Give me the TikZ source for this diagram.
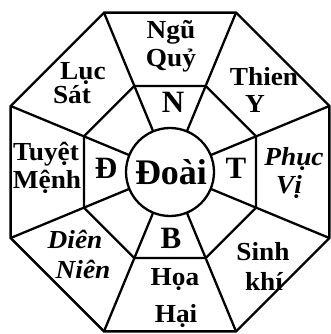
\documentclass[tikz,border=0pt]{standalone}
\usepackage{fontspec}
\setmainfont{Liberation Serif}
\newfontfamily\regfont[FakeStretch=1.05]{Liberation Serif}
\usetikzlibrary{calc}
\tikzset{
  edge/.style={line width=2.3pt, line join=miter},
  reg/.style={anchor=base, inner sep=0pt, font=\regfont\bfseries\fontsize{26}{26}\selectfont},
  regi/.style={anchor=base, inner sep=0pt, font=\regfont\bfseries\itshape\fontsize{26}{26}\selectfont},
  dirl/.style={anchor=base, inner sep=0pt, font=\bfseries\fontsize{31}{31}\selectfont},
  ctr/.style={anchor=base, inner sep=0pt, font=\bfseries\fontsize{36}{36}\selectfont},
}
\begin{document}
\begin{tikzpicture}[x=1pt,y=-1pt]
\useasboundingbox (0,0) rectangle (331,334);
\coordinate (C) at (170,172);
\foreach \k in {0,...,7} {
  \pgfmathsetmacro\a{22.5+45*\k}
  \coordinate (o\k) at ($(C)+(\a:172.5)$);
  \coordinate (i\k) at ($(C)+(\a:93.1)$);
  \coordinate (c\k) at ($(C)+(\a:44)$);
}
\node[draw, circle, line width=2.3pt, minimum size=88pt, inner sep=0pt] (doai) at (C) {};
\draw[edge] (o0) -- (o1) -- (o2) -- (o3) -- (o4) -- (o5) -- (o6) -- (o7) -- cycle;
\draw[edge] (i0) -- (i1) -- (i2) -- (i3) -- (i4) -- (i5) -- (i6) -- (i7) -- cycle;
\foreach \k in {0,...,7} {
  \draw[edge] (c\k) -- (o\k);
}
% labels
\node[reg] (ngu) at (171,39) {Ngũ};
\node[reg] (quy) at (171,67) {Quỷ};
\node[dirl] (n) at (173,113) {N};
\node[reg] (luc) at (83,80) {Lục};
\node[reg] (sat) at (72,103) {Sát};
\node[reg] (thien) at (264,86) {Thien};
\node[reg] (y) at (255,113) {Y};
\node[reg] (tuyet) at (46,160) {Tuyệt};
\node[reg] (menh) at (47,188) {Mệnh};
\node[dirl] (d) at (106,178) {Đ};
\node[ctr] (doaitxt) at (171,184) {Đoài};
\node[dirl] (t) at (236,178) {T};
\node[regi] (phuc) at (294,165) {Phục};
\node[regi] (vi) at (289,193) {Vị};
\node[dirl] (b) at (171,248) {B};
\node[regi] (dien) at (75,248) {Diên};
\node[regi] (nien) at (83,278) {Niên};
\node[reg] (sinh) at (263,260) {Sinh};
\node[reg] (khi) at (264,290) {khí};
\node[reg] (hoa) at (175,285) {Họa};
\node[reg] (hai) at (176,322) {Hại};
\end{tikzpicture}
\end{document}
